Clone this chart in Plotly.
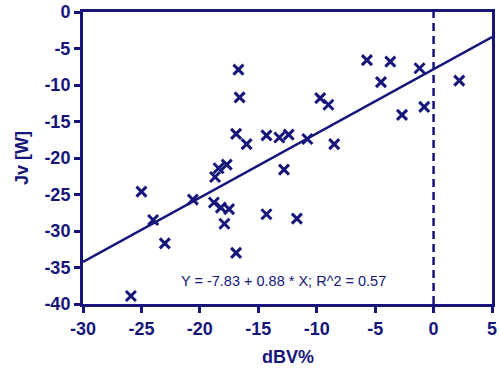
import plotly.graph_objects as go

dbv = [-25.9, -25.0, -24.0, -23.0, -20.6, -18.8, -18.2, -17.5, -17.9, -16.9,
       -18.7, -18.4, -17.7, -16.7, -16.6, -16.9, -16.0, -14.3, -13.2, -12.4,
       -10.8, -8.5, -9.7, -9.0, -12.8, -14.3, -11.7, -5.7, -3.7, -1.2,
       -4.5, 2.2, -2.7, -0.8]
jv = [-38.9, -24.6, -28.5, -31.7, -25.7, -26.1, -26.8, -27.0, -29.0, -33.0,
      -22.6, -21.4, -20.9, -7.9, -11.7, -16.7, -18.1, -16.9, -17.2, -16.8,
      -17.4, -18.1, -11.8, -12.7, -21.6, -27.7, -28.3, -6.6, -6.8, -7.7,
      -9.6, -9.4, -14.1, -13.0]

intercept = -7.83
slope = 0.88
fit_x = [-30, 5]
fit_y = [intercept + slope * v for v in fit_x]
x_ticks = [-30, -25, -20, -15, -10, -5, 0, 5]
y_ticks = [0, -5, -10, -15, -20, -25, -30, -35, -40]

C = "#16167a"
font_family = "Liberation Sans, Arial, sans-serif"

fig = go.Figure()
fig.add_trace(go.Scatter(x=fit_x, y=fit_y, mode="lines",
                         line=dict(color=C, width=2.5), hoverinfo="skip"))
fig.add_trace(go.Scatter(x=dbv, y=jv, mode="markers",
                         marker=dict(symbol="x-thin-open", size=10,
                                     line=dict(color=C, width=3), color=C)))
fig.add_shape(type="line", x0=0, x1=0, y0=-40, y1=0, xref="x", yref="y",
              line=dict(color=C, width=2.5, dash="8px,5px"))
fig.add_annotation(x=-12.8, y=-36.8, xref="x", yref="y",
                   text="Y = -7.83 + 0.88 * X; R^2 = 0.57", showarrow=False,
                   font=dict(size=14.5, color=C, family=font_family))
fig.add_annotation(x=0.5, y=-0.182, xref="paper", yref="paper",
                   text="<b>dBV%</b>", showarrow=False, yanchor="middle",
                   font=dict(size=18, color=C, family=font_family))
fig.add_annotation(x=-0.149, y=0.5, xref="paper", yref="paper",
                   text="<b>Jv [W]</b>", showarrow=False, textangle=-90,
                   xanchor="center", yanchor="middle",
                   font=dict(size=18, color=C, family=font_family))

fig.update_layout(
    width=500, height=368,
    margin=dict(l=83, r=8, t=12, b=64),
    plot_bgcolor="white", paper_bgcolor="white",
    showlegend=False,
    font=dict(family=font_family, color=C),
)
fig.update_xaxes(range=[-30, 5], tickvals=x_ticks,
                 ticktext=[f"<b>{v}</b>" for v in x_ticks],
                 ticks="outside", ticklen=6, automargin=False,
                 tickwidth=3, tickcolor=C, showline=True, linecolor=C,
                 linewidth=3, mirror=True, showgrid=False, zeroline=False,
                 tickfont=dict(size=18, color=C, family=font_family))
fig.update_yaxes(range=[-40, 0], tickvals=y_ticks,
                 ticktext=[f"<b>{v}</b>" for v in y_ticks],
                 ticks="outside", ticklen=6, automargin=False,
                 tickwidth=3, tickcolor=C, showline=True, linecolor=C,
                 linewidth=3, mirror=True, showgrid=False, zeroline=False,
                 tickfont=dict(size=18, color=C, family=font_family))

fig.write_html("out.html", config={"displayModeBar": False},
               post_script="document.body.style.margin='0';document.body.style.overflow='hidden';")
